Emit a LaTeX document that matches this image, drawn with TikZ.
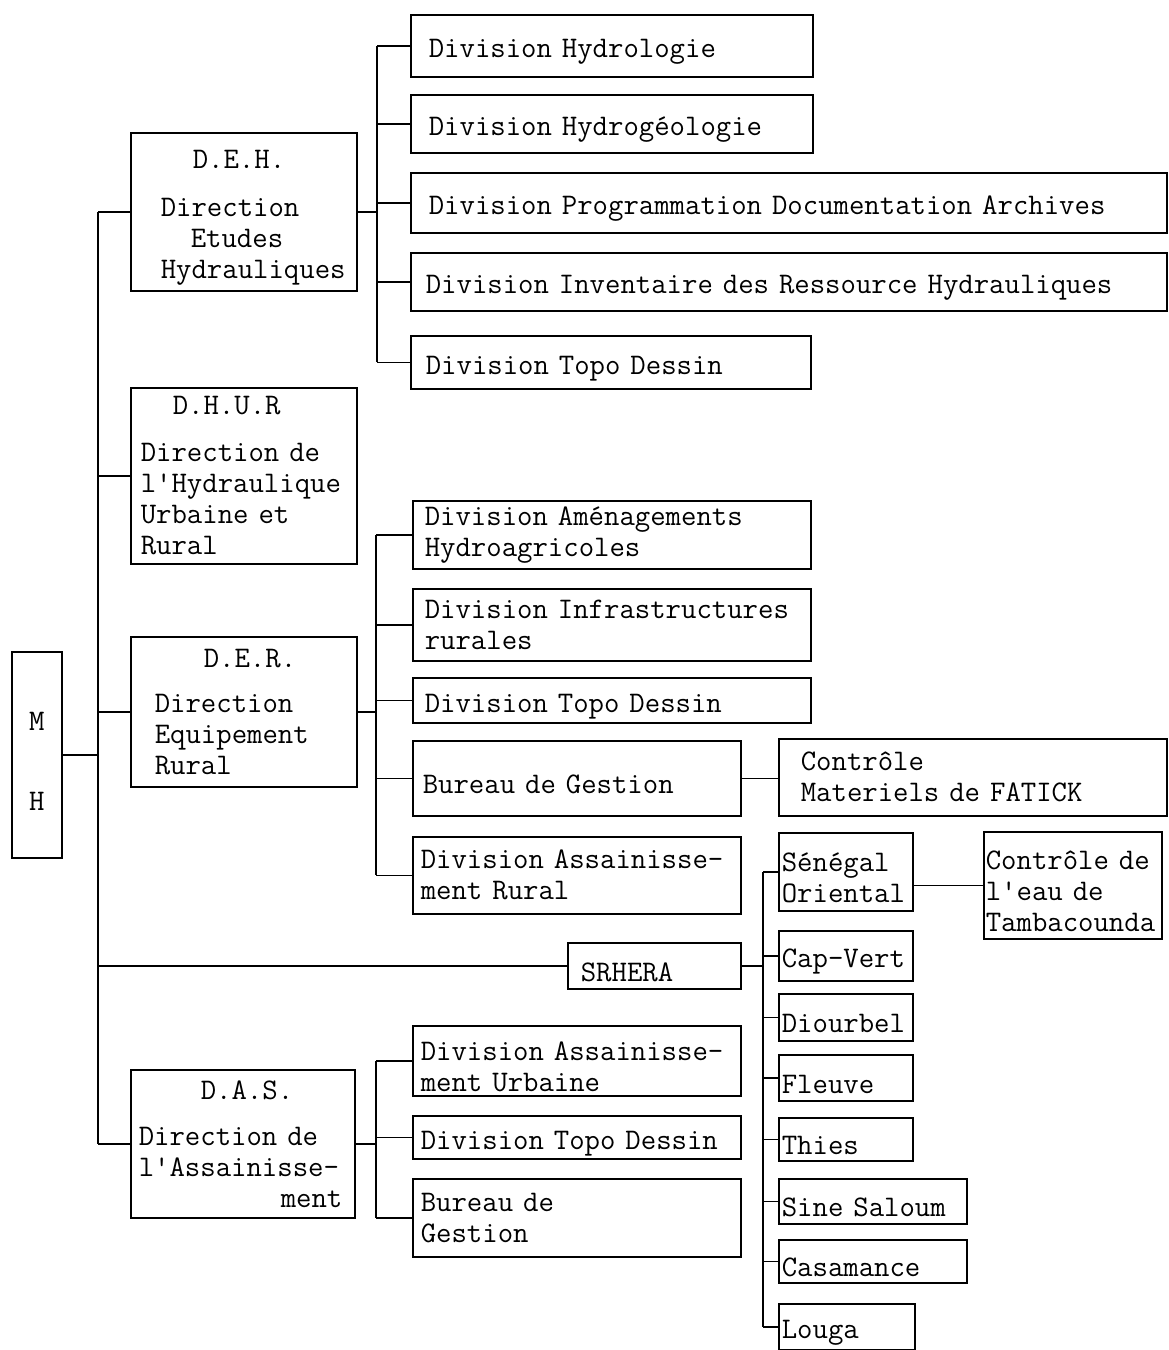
\documentclass[tikz,border=0pt]{standalone}
\usepackage{fontspec}
\newcommand\tfnt{\ttfamily\fontsize{29.9}{31}\selectfont}
\newcommand\pd[1]{\hspace*{#1pt}}
\tikzset{
  box/.style 2 args={draw, line width=1.6pt, anchor=north west, inner xsep=0pt,
    inner ysep=0pt, text width=#1pt, minimum width=#1pt, minimum height=#2pt,
    align=left, font=\tfnt},
  sh/.style={execute at begin node={\rule{0pt}{31pt}}},
  ln/.style={line width=1.6pt}
}
\begin{document}
\begin{tikzpicture}[x=1pt,y=-1pt]
\useasboundingbox (0,0) rectangle (1168,1350);

% bus coordinates
\coordinate (busM) at (98,0);
\coordinate (busA) at (377,0);
\coordinate (busB) at (376,0);
\coordinate (busC) at (763,0);
\coordinate (busD) at (376,0);

% root
\node[box={50}{206}, sh, align=center] (mh) at (11,651) {M\\[49pt]H};

% directions
\node[box={226}{158}, sh] (deh) at (130,132) {\pd{62}D.E.H.\\[17pt]\pd{30}Direction\\\pd{60}Etudes\\\pd{30}Hydrauliques};
\node[box={226}{176}] (dhur) at (130,387) {\pd{42}D.H.U.R\\[16pt]\pd{10}Direction de\\\pd{10}l'Hydraulique\\\pd{10}Urbaine et\\\pd{10}Rural};
\node[box={226}{150}] (der) at (130,636) {\pd{73}D.E.R.\\[14pt]\pd{24}Direction\\\pd{24}Equipement\\\pd{24}Rural};
\node[box={224}{148}] (das) at (130,1069) {\pd{70}D.A.S.\\[15pt]\pd{8}Direction de\\\pd{8}l'Assainisse-\\\pd{150}ment};
\node[box={173}{46}, sh] (srhera) at (567,942) {\pd{13}SRHERA};

% DEH divisions
\node[box={402}{62}, sh] (dh1) at (410,14) {\pd{18}Division Hydrologie};
\node[box={402}{58}, sh] (dh2) at (410,94) {\pd{18}Division Hydrogéologie};
\node[box={756}{60}, sh] (dh3) at (410,172) {\pd{18}Division Programmation Documentation Archives};
\node[box={756}{58}, sh] (dh4) at (410,252) {\pd{15}Division Inventaire des Ressource Hydrauliques};
\node[box={400}{53}, sh] (dh5) at (410,335) {\pd{15}Division Topo Dessin};

% DER divisions
\node[box={398}{68}] (de1) at (412,500) {\pd{12}Division Aménagements\\\pd{12}Hydroagricoles};
\node[box={398}{72}] (de2) at (412,588) {\pd{12}Division Infrastructures\\\pd{12}rurales};
\node[box={398}{45}, sh] (de3) at (412,677) {\pd{12}Division Topo Dessin};
\node[box={328}{75}, sh] (de4) at (412,740) {\pd{10}Bureau de Gestion};
\node[box={328}{77}] (de5) at (412,836) {\pd{8}Division Assainisse-\\\pd{8}ment Rural};
\node[box={388}{77}] (fat) at (778,738) {\pd{22}Contrôle\\\pd{22}Materiels de FATICK};

% regions
\node[box={134}{78}, sh] (so) at (778,832) {\pd{3}Sénégal\\\pd{3}Oriental};
\node[box={134}{50}, sh] (cv) at (778,930) {\pd{3}Cap-Vert};
\node[box={134}{47}, sh] (di) at (778,993) {\pd{3}Diourbel};
\node[box={134}{46}, sh] (fl) at (778,1054) {\pd{3}Fleuve};
\node[box={134}{43}, sh] (th) at (778,1117) {\pd{3}Thies};
\node[box={188}{45}, sh] (ss) at (778,1178) {\pd{3}Sine Saloum};
\node[box={188}{43}, sh] (ca) at (778,1239) {\pd{3}Casamance};
\node[box={136}{46}, sh] (lo) at (778,1303) {\pd{3}Louga};
\node[box={178}{107}, sh] (ta) at (983,831) {\pd{2}Contrôle de\\\pd{2}l'eau de\\\pd{2}Tambacounda};

% DAS divisions
\node[box={328}{70}, sh] (da1) at (412,1025) {\pd{8}Division Assainisse-\\\pd{8}ment Urbaine};
\node[box={328}{43}, sh] (da2) at (412,1115) {\pd{8}Division Topo Dessin};
\node[box={328}{78}] (da3) at (412,1178) {\pd{8}Bureau de\\\pd{8}Gestion};

% main bus
\draw[ln] (busM |- deh.west) -- (busM |- das.west);
\foreach \n in {deh,dhur,der,das,srhera} \draw[ln] (busM |- \n.west) -- (\n.west);
\draw[ln] (mh.east) -- (busM |- mh.east);

% DEH bus
\draw[ln] (busA |- dh1.west) -- (busA |- dh5.west);
\draw[ln] (deh.east) -- (busA |- deh.east);
\foreach \n in {dh1,dh2,dh3,dh4,dh5} \draw[ln] (busA |- \n.west) -- (\n.west);

% DER bus
\draw[ln] (busB |- de1.west) -- (busB |- de5.west);
\draw[ln] (der.east) -- (busB |- der.east);
\foreach \n in {de1,de2,de3,de4,de5} \draw[ln] (busB |- \n.west) -- (\n.west);
\draw[ln] (de4.east) -- (fat.west |- de4.east);

% SRHERA bus
\draw[ln] (busC |- so.west) -- (busC |- lo.west);
\draw[ln] (srhera.east) -- (busC |- srhera.east);
\foreach \n in {so,cv,di,fl,th,ss,ca,lo} \draw[ln] (busC |- \n.west) -- (\n.west);
\draw[ln] (so.east |- ta.west) -- (ta.west);

% DAS bus
\draw[ln] (busD |- da1.west) -- (busD |- da3.west);
\draw[ln] (das.east) -- (busD |- das.east);
\foreach \n in {da1,da2,da3} \draw[ln] (busD |- \n.west) -- (\n.west);
\end{tikzpicture}
\end{document}
